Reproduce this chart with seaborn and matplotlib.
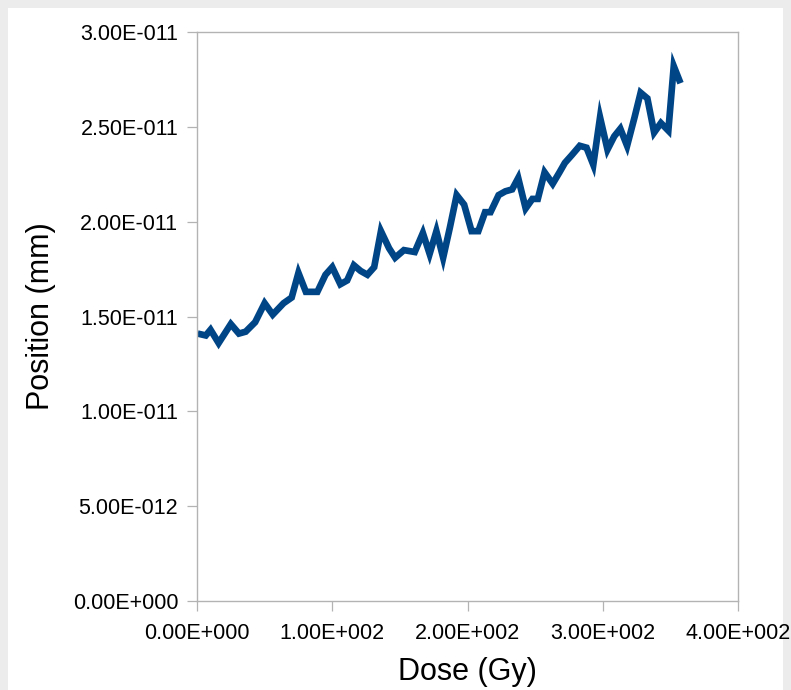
# -*- coding: utf-8 -*-
#import required libraries
from matplotlib import pyplot as plt
from matplotlib.patches import Rectangle
import numpy as np
import pandas as pd
import seaborn as sns

#dose (Gy) and position (in units of 1e-11 mm)
dose = [0.5, 6.5, 10.0, 16.0, 25.0, 31.0, 36.0, 43.0, 50.0, 56.0,
        64.0, 70.0, 75.0, 80.5, 89.0, 95.0, 100.0, 106.0, 111.0, 116.0,
        121.0, 126.0, 131.0, 136.0, 142.0, 146.5, 153.0, 161.0, 167.0, 172.0,
        177.0, 182.0, 187.0, 192.0, 197.5, 203.0, 208.0, 213.0, 217.0, 223.0,
        228.0, 233.0, 237.5, 243.0, 248.0, 252.0, 257.0, 263.0, 268.0, 272.0,
        277.0, 283.0, 288.0, 293.0, 298.0, 303.5, 308.5, 313.0, 318.0, 323.5,
        328.0, 333.0, 338.0, 343.0, 348.5, 352.5, 357.5]
position_e11 = [1.41, 1.40, 1.43, 1.36, 1.46, 1.41, 1.42, 1.47, 1.57, 1.51,
                1.57, 1.60, 1.73, 1.63, 1.63, 1.72, 1.76, 1.67, 1.69, 1.77,
                1.74, 1.72, 1.76, 1.95, 1.86, 1.81, 1.85, 1.84, 1.94, 1.83,
                1.95, 1.81, 1.97, 2.14, 2.09, 1.95, 1.95, 2.05, 2.05, 2.14,
                2.16, 2.17, 2.23, 2.07, 2.12, 2.12, 2.26, 2.20, 2.26, 2.31,
                2.35, 2.40, 2.39, 2.30, 2.55, 2.38, 2.45, 2.49, 2.40, 2.55,
                2.68, 2.65, 2.47, 2.52, 2.48, 2.82, 2.73]

x_ticks = [0, 100, 200, 300, 400]
x_tick_labels = ['0.00E+000', '1.00E+002', '2.00E+002', '3.00E+002', '4.00E+002']
y_ticks = [0, 5e-12, 1e-11, 1.5e-11, 2e-11, 2.5e-11, 3e-11]
y_tick_labels = ['0.00E+000', '5.00E-012', '1.00E-011', '1.50E-011',
                 '2.00E-011', '2.50E-011', '3.00E-011']

data = pd.DataFrame({'dose': dose, 'position': np.array(position_e11) * 1e-11})

#plot style
sns.set_theme(style="white")
plt.rcParams['font.family'] = ['Liberation Sans', 'DejaVu Sans']

fig = plt.figure(figsize=(7.91, 6.9), dpi=100)
fig.patch.set_facecolor('#ececec')
#white panel behind the chart
fig.patches.append(Rectangle((8 / 791, 0), 775 / 791, 682 / 690, transform=fig.transFigure,
                             facecolor='white', edgecolor='none', zorder=-10))
left, right, top, bottom = 197, 738, 32, 601
ax = fig.add_axes([left / 791, 1 - bottom / 690, (right - left) / 791, (bottom - top) / 690])
ax.set_zorder(1)

sns.lineplot(ax=ax, data=data, x='dose', y='position', color='#004586',
             linewidth=4.8, solid_joinstyle='miter', solid_capstyle='butt')

ax.set_facecolor('white')
ax.set_xlim(0, 400)
ax.set_ylim(0, 3e-11)
ax.set_xticks(x_ticks)
ax.set_xticklabels(x_tick_labels)
ax.set_yticks(y_ticks)
ax.set_yticklabels(y_tick_labels)
for side in ['left', 'right', 'top', 'bottom']:
    ax.spines[side].set_color('#b3b3b3')
    ax.spines[side].set_linewidth(1.0)
ax.tick_params(axis='both', which='major', direction='out', length=7.5, width=0.9,
               color='#b3b3b3', labelsize=15.5, labelcolor='black',
               left=True, bottom=True)
ax.tick_params(axis='x', pad=8)
ax.tick_params(axis='y', pad=6)
ax.set_xlabel('Dose (Gy)', fontsize=22, color='black', labelpad=10)
ax.set_ylabel('Position (mm)', fontsize=22, color='black', labelpad=12)
ax.grid(False)

plt.savefig('out.png', dpi=100, facecolor=fig.get_facecolor())
